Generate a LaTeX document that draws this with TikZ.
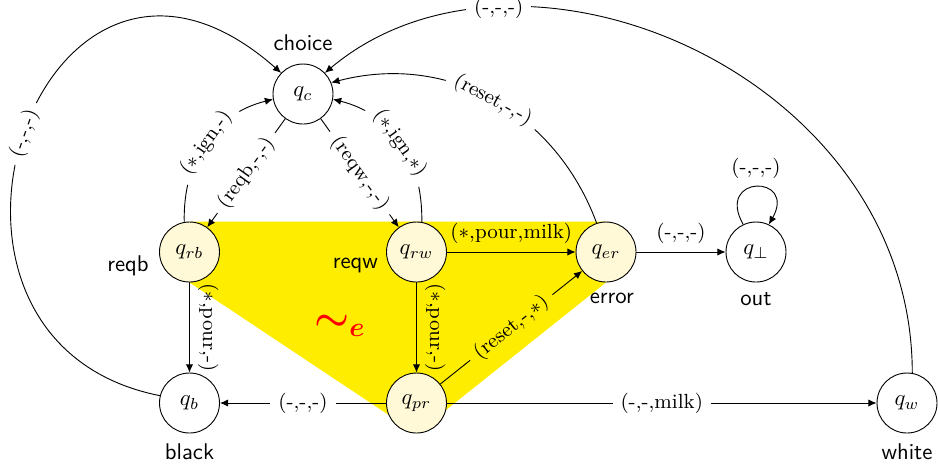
\documentclass[tikz,border=0pt]{standalone}
\usepackage{amsmath}
\usetikzlibrary{arrows.meta}
\definecolor{yel}{RGB}{255,237,0}
\definecolor{cream}{RGB}{255,249,215}
\pgfdeclarelayer{edgelayer}
\pgfdeclarelayer{yellowlayer}
\pgfsetlayers{edgelayer,yellowlayer,main}
\begin{document}
\begin{tikzpicture}[x=0.44pt,y=-0.44pt,
  st/.style={circle,draw,minimum size=26.4pt,inner sep=0pt,fill=white},
  ye/.style={fill=cream},
  el/.style={font=\small,inner sep=3.5pt},
  onl/.style={el,fill=white},
  arr/.style={-{Latex[length=3.6pt,width=3.2pt]}},
  every label/.style={font=\sffamily}
]
\useasboundingbox (0,0) rectangle (938,472);

\node[st,ye,label={[label distance=1pt,yshift=-6pt]left:reqb}] (qrb) at (189.5,252) {$q_{rb}$};
\node[st,ye,label={[label distance=0pt,yshift=-6pt]left:reqw}] (qrw) at (416.5,252) {$q_{rw}$};
\node[st,ye,label={[label distance=1pt,xshift=2.6pt]below:error}] (qer) at (606,252) {$q_{er}$};
\node[st,label={[label distance=1pt]below:out}] (qbot) at (756,252) {$q_\bot$};
\node[st,label={[label distance=2pt]above:choice}] (qc) at (303,94) {$q_c$};
\node[st,label={[label distance=1pt]below:black}] (qb) at (189.5,403) {$q_b$};
\node[st,ye] (qpr) at (416.5,403) {$q_{pr}$};
\node[st,label={[label distance=1pt]below:white}] (qw) at (907,403) {$q_w$};

\begin{pgfonlayer}{edgelayer}
\draw[arr] (qrb.100) .. controls (183,160) and (214,114) .. (qc.190) node[onl,sloped,midway]{(${*}$,ign,-)};
\draw[arr] (qrw.80) .. controls (423,160) and (392,114) .. (qc.-10) node[onl,sloped,midway]{(${*}$,ign,${*}$)};
\draw[arr] (qer.108) .. controls (556,113) and (449,52) .. (qc.22) node[onl,sloped,midway]{(reset,-,-)};
\draw[arr] (qw.80) .. controls (912,73) and (519.5,-90.7) .. (qc.44) node[onl,pos=0.75]{(-,-,-)};
\draw[arr] (qb.166) .. controls (-122,340) and (40,-140) .. (qc.136) node[onl,sloped,pos=0.5]{(-,-,-)};
\draw[arr] (qc) -- node[onl,sloped]{(reqb,-,-)} (qrb);
\draw[arr] (qc) -- node[onl,sloped]{(reqw,-,-)} (qrw);
\draw[arr] (qrb) -- node[el,sloped,above]{(${*}$,pour,-)} (qb);
\draw[arr] (qrw) -- node[el,sloped,above]{(${*}$,pour,-)} (qpr);
\draw[arr] (qrw) -- node[el,above]{(${*}$,pour,milk)} (qer);
\draw[arr] (qpr) -- node[onl,sloped]{(reset,-,${*}$)} (qer);
\draw[arr] (qer) -- node[el,above]{(-,-,-)} (qbot);
\draw[arr] (qpr) -- node[onl]{(-,-,-)} (qb);
\draw[arr] (qpr) -- node[onl]{(-,-,milk)} (qw);
\draw[arr] (qbot.115) .. controls (715,174.4) and (797,174.4) .. (qbot.65) node[el,above,midway]{(-,-,-)};
\end{pgfonlayer}

\begin{pgfonlayer}{yellowlayer}
\begin{scope}[blend mode=multiply]
\fill[yel] (qrb.north) -- (qer.north) -- (qer.south) -- (qpr.south) -- (qrb.south) -- cycle;
\end{scope}
\end{pgfonlayer}

\node[text=red,font=\LARGE] (sim) at (340,326) {$\boldsymbol{\sim_e}$};
\end{tikzpicture}
\end{document}
